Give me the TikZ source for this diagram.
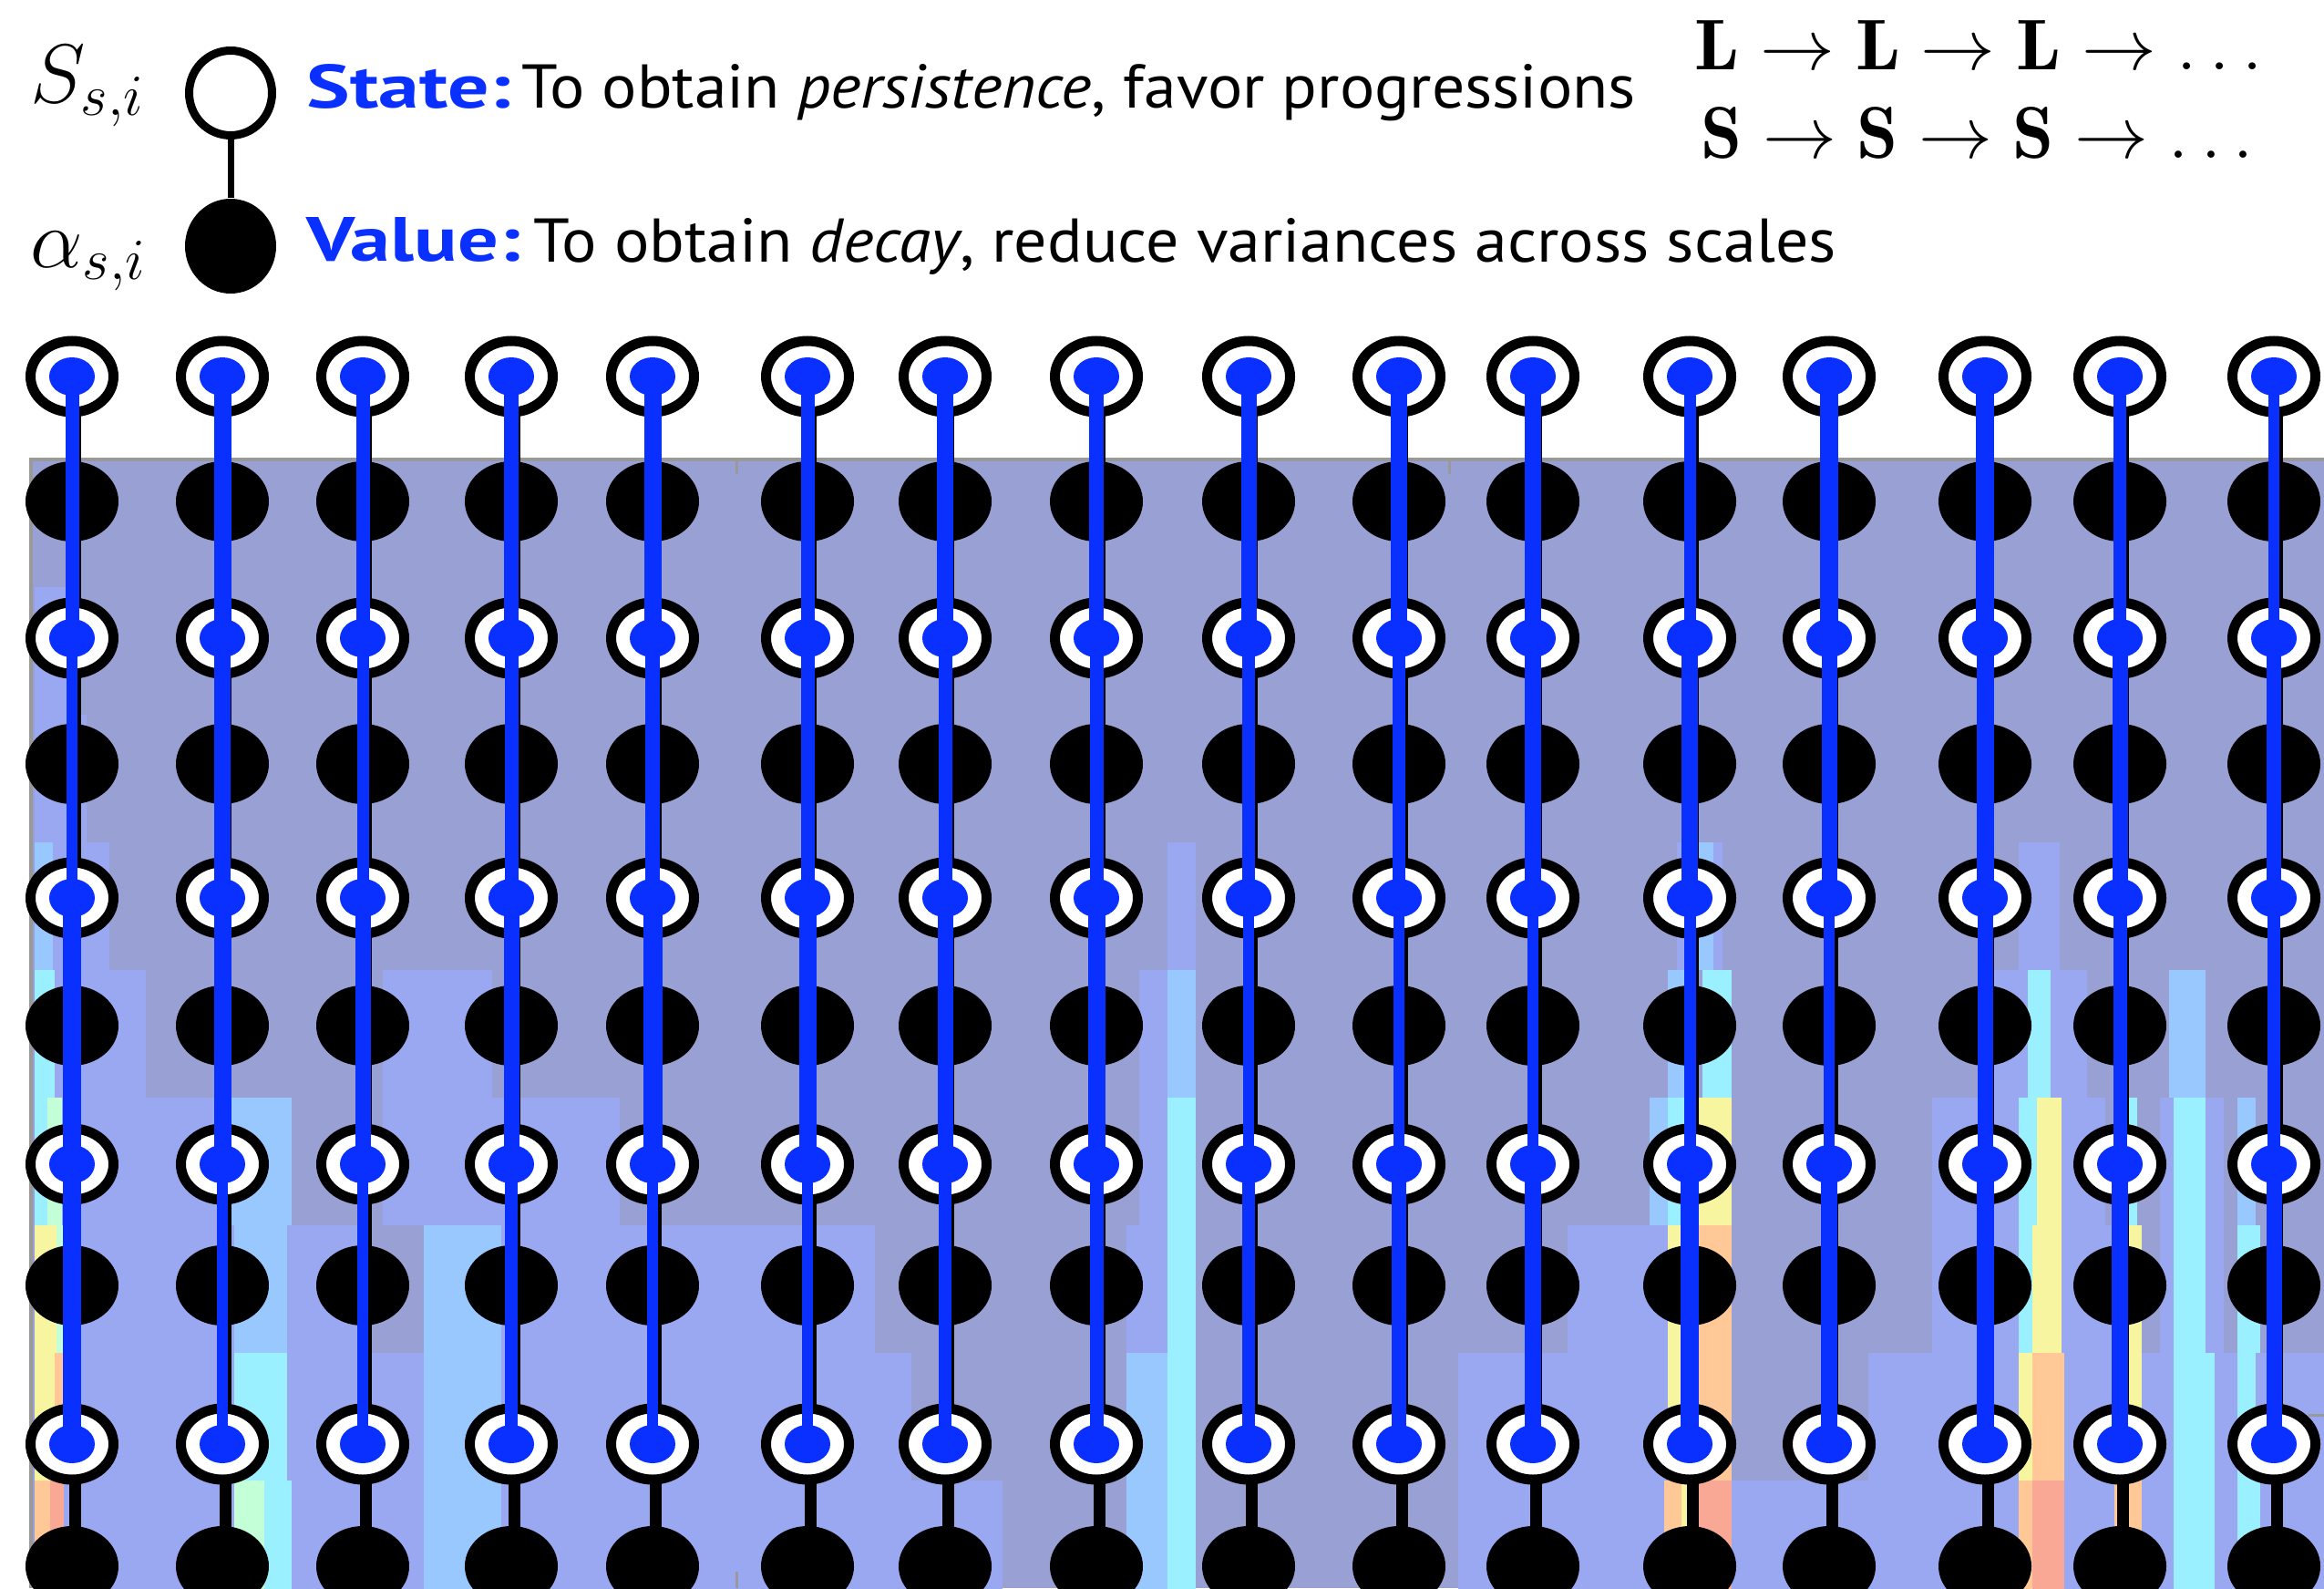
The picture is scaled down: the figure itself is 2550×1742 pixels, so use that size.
\documentclass[tikz,border=0pt]{standalone}
\usepackage{fix-cm}
\usepackage{fontspec}
\setsansfont{PT Sans}
\usepackage{graphicx}
\usetikzlibrary{shapes.geometric}
\definecolor{myblue}{RGB}{10,48,255}
\definecolor{hbase}{RGB}{152,160,212}
\definecolor{hper}{RGB}{153,168,240}
\definecolor{hlb}{RGB}{153,200,255}
\definecolor{hcy}{RGB}{155,240,255}
\definecolor{hgr}{RGB}{195,255,215}
\definecolor{hye}{RGB}{248,245,160}
\definecolor{hor}{RGB}{255,200,150}
\definecolor{hrd}{RGB}{250,168,150}
\definecolor{hgray}{RGB}{153,153,153}
\pgfdeclarelayer{heat}
\pgfdeclarelayer{bg}
\pgfsetlayers{heat,bg,main}
\newcommand{\hs}[4]{\fill[#4] (#1,{504+140*#3}) rectangle (#2,{644+140*#3});}
\begin{document}
\begin{tikzpicture}[x=0.1mm,y=-0.1mm,
  ring/.style={ellipse, draw=black, fill=white, line width=1.1mm, inner sep=0pt, minimum width=9.1mm, minimum height=7.8mm},
  valdot/.style={ellipse, fill=black, inner sep=0pt, minimum width=10.2mm, minimum height=8.8mm},
  bluedot/.style={ellipse, fill=myblue, inner sep=0pt, minimum width=5mm, minimum height=4.2mm},
  chain/.style={line width=1.3mm, black},
  txt/.style={anchor=base west, inner sep=0pt, font=\sffamily}]
\useasboundingbox (0,0) rectangle (2550,1742);

% ---------------- heat map background ----------------
\begin{pgfonlayer}{heat}
\begin{scope}
\clip (34,504) rectangle (2550,1742);
\fill[hbase] (34,504) rectangle (2550,1742);
% band 1
\hs{38}{75}{1}{hper}
% band 2
\hs{38}{95}{2}{hper}
% band 3
\hs{38}{58}{3}{hlb} \hs{58}{120}{3}{hper} \hs{1281}{1312}{3}{hper}
\hs{1840}{1890}{3}{hper} \hs{1862}{1880}{3}{hlb} \hs{2215}{2260}{3}{hper}
% band 4
\hs{38}{60}{4}{hcy} \hs{60}{160}{4}{hper} \hs{420}{540}{4}{hper} \hs{1250}{1281}{4}{hper}
\hs{1281}{1312}{4}{hlb} \hs{1830}{1850}{4}{hlb} \hs{1868}{1900}{4}{hcy}
\hs{2180}{2290}{4}{hper} \hs{2225}{2250}{4}{hcy} \hs{2380}{2420}{4}{hlb}
% band 5
\hs{38}{250}{5}{hper} \hs{38}{52}{5}{hcy} \hs{52}{68}{5}{hgr} \hs{250}{320}{5}{hlb}
\hs{420}{680}{5}{hper} \hs{1250}{1281}{5}{hper} \hs{1281}{1312}{5}{hcy}
\hs{1810}{1830}{5}{hlb} \hs{1830}{1850}{5}{hcy} \hs{1850}{1900}{5}{hye}
\hs{2120}{2310}{5}{hper} \hs{2215}{2235}{5}{hcy} \hs{2235}{2262}{5}{hye} \hs{2330}{2345}{5}{hcy}
\hs{2370}{2440}{5}{hper} \hs{2385}{2420}{5}{hcy} \hs{2455}{2475}{5}{hlb}
% band 6
\hs{38}{400}{6}{hper} \hs{38}{62}{6}{hye} \hs{62}{72}{6}{hgr} \hs{257}{315}{6}{hlb}
\hs{465}{550}{6}{hlb} \hs{550}{960}{6}{hper} \hs{1236}{1281}{6}{hper} \hs{1281}{1312}{6}{hcy}
\hs{1720}{1830}{6}{hper} \hs{1830}{1845}{6}{hye} \hs{1845}{1862}{6}{hcy} \hs{1862}{1900}{6}{hor}
\hs{2120}{2330}{6}{hper} \hs{2215}{2230}{6}{hcy} \hs{2230}{2262}{6}{hye} \hs{2330}{2350}{6}{hye}
\hs{2370}{2440}{6}{hper} \hs{2385}{2420}{6}{hcy} \hs{2455}{2480}{6}{hcy}
% band 7
\hs{38}{1000}{7}{hper} \hs{38}{60}{7}{hye} \hs{60}{72}{7}{hor} \hs{257}{315}{7}{hcy}
\hs{465}{550}{7}{hlb} \hs{1236}{1281}{7}{hlb} \hs{1281}{1312}{7}{hcy}
\hs{1600}{1830}{7}{hper} \hs{1830}{1848}{7}{hye} \hs{1848}{1862}{7}{hcy} \hs{1862}{1900}{7}{hor}
\hs{2050}{2550}{7}{hper} \hs{2215}{2230}{7}{hye} \hs{2230}{2265}{7}{hor} \hs{2330}{2350}{7}{hye}
\hs{2385}{2430}{7}{hcy} \hs{2455}{2475}{7}{hcy}
% band 8
\hs{38}{1100}{8}{hper} \hs{38}{55}{8}{hor} \hs{55}{70}{8}{hrd} \hs{257}{290}{8}{hgr}
\hs{290}{320}{8}{hcy} \hs{465}{550}{8}{hlb} \hs{1236}{1281}{8}{hlb} \hs{1281}{1312}{8}{hcy}
\hs{1600}{2550}{8}{hper} \hs{1826}{1845}{8}{hor} \hs{1845}{1862}{8}{hye} \hs{1862}{1900}{8}{hrd}
\hs{2215}{2230}{8}{hor} \hs{2230}{2265}{8}{hrd} \hs{2320}{2350}{8}{hor}
\hs{2385}{2430}{8}{hcy} \hs{2455}{2480}{8}{hcy}
\end{scope}
\draw[hgray, line width=0.45mm] (34,1742) -- (34,504) -- (2550,504);
\draw[hgray, line width=0.3mm] (808,504) -- (808,520);
\draw[hgray, line width=0.3mm] (1590,504) -- (1590,520);
\draw[hgray, line width=0.3mm] (808,1742) -- (808,1724);
\draw[hgray, line width=0.3mm] (2533,1552) -- (2550,1552);
\end{pgfonlayer}

% ---------------- legend ----------------
\node[ellipse, draw=black, fill=white, line width=0.9mm, inner sep=0pt, minimum width=9.1mm, minimum height=9.3mm] (ls) at (253,102) {};
\node[ellipse, fill=black, inner sep=0pt, minimum width=10mm, minimum height=10.4mm] (lv) at (253,270) {};
\draw[line width=0.7mm] (ls) -- (lv);
\node[anchor=base west, inner sep=0pt] (lsl) at (33,113) {\fontsize{26pt}{30pt}\selectfont $S_{s,i}$};
\node[anchor=base west, inner sep=0pt] (lvl) at (33,293) {\fontsize{26pt}{30pt}\selectfont $\alpha_{s,i}$};
\node[txt, text=myblue] (st) at (336,118) {\resizebox{22.4mm}{4.8mm}{\bfseries State:}};
\node[txt] (stt) at (572,118) {\resizebox{122.2mm}{4.8mm}{To obtain \textit{persistence}, favor progressions}};
\node[txt, text=myblue] (vt) at (336,287) {\resizebox{23.4mm}{4.8mm}{\bfseries Value:}};
\node[txt] (vtt) at (585,287) {\resizebox{142.9mm}{4.8mm}{To obtain \textit{decay}, reduce variances across scales}};
\node[anchor=base west, inner sep=0pt] (lrow) at (1859,77) {\resizebox{62.3mm}{5.4mm}{\fontsize{22.4pt}{26pt}\selectfont $\mathbf{L}\rightarrow\mathbf{L}\rightarrow\mathbf{L}\rightarrow\ldots$}};
\node[anchor=base west, inner sep=0pt] (srow) at (1866,173) {\resizebox{60.6mm}{5.6mm}{\fontsize{22.4pt}{26pt}\selectfont $\mathbf{S}\rightarrow\mathbf{S}\rightarrow\mathbf{S}\rightarrow\ldots$}};

% ---------------- grid of nodes ----------------
\foreach \xx [count=\c] in {79,244,398,561,716,886,1037,1203,1370,1535,1682,1854,2007,2178,2326,2495}{
  \foreach \ys/\yv [count=\r] in {413/550,700/838,985/1125,1277/1410,1584/1718}{
    \node[valdot] (v\c-\r) at (\xx,\yv) {};
    \node[ring] (s\c-\r) at (\xx,\ys) {};
    \node[bluedot] (b\c-\r) at (\xx,\ys) {};
  }
}

% black chains (state -> value -> state ...)
\begin{pgfonlayer}{bg}
\foreach \c in {1,...,16}{
  \draw[chain] ([xshift=0.3mm]s\c-1.center) -- ([xshift=0.3mm]v\c-1.center)
     -- ([xshift=0.3mm]s\c-2.center) -- ([xshift=0.3mm]v\c-2.center)
     -- ([xshift=0.3mm]s\c-3.center) -- ([xshift=0.3mm]v\c-3.center)
     -- ([xshift=0.3mm]s\c-4.center) -- ([xshift=0.3mm]v\c-4.center)
     -- ([xshift=0.3mm]s\c-5.center) -- ([xshift=0.3mm]v\c-5.center);
}
\end{pgfonlayer}

% blue state-to-state links
\foreach \c/\wa/\wb/\wc/\wd in {1/15/12/20/20,2/19/18/19/12,3/15/13/17/12,4/16/15/17/14,
  5/19/16/21/12,6/15/15/19/12,7/18/15/17/14,8/16/15/19/15,9/17/14/12/14,10/18/14/12/16,
  11/18/18/12/18,12/13/18/13/20,13/20/17/12/18,14/20/19/17/19,15/14/17/15/18,16/12/16/14/17}{
  \draw[myblue, line width=\wa*0.1mm] (b\c-1.center) -- (b\c-2.center);
  \draw[myblue, line width=\wb*0.1mm] (b\c-2.center) -- (b\c-3.center);
  \draw[myblue, line width=\wc*0.1mm] (b\c-3.center) -- (b\c-4.center);
  \draw[myblue, line width=\wd*0.1mm] (b\c-4.center) -- (b\c-5.center);
}
\end{tikzpicture}
\end{document}
